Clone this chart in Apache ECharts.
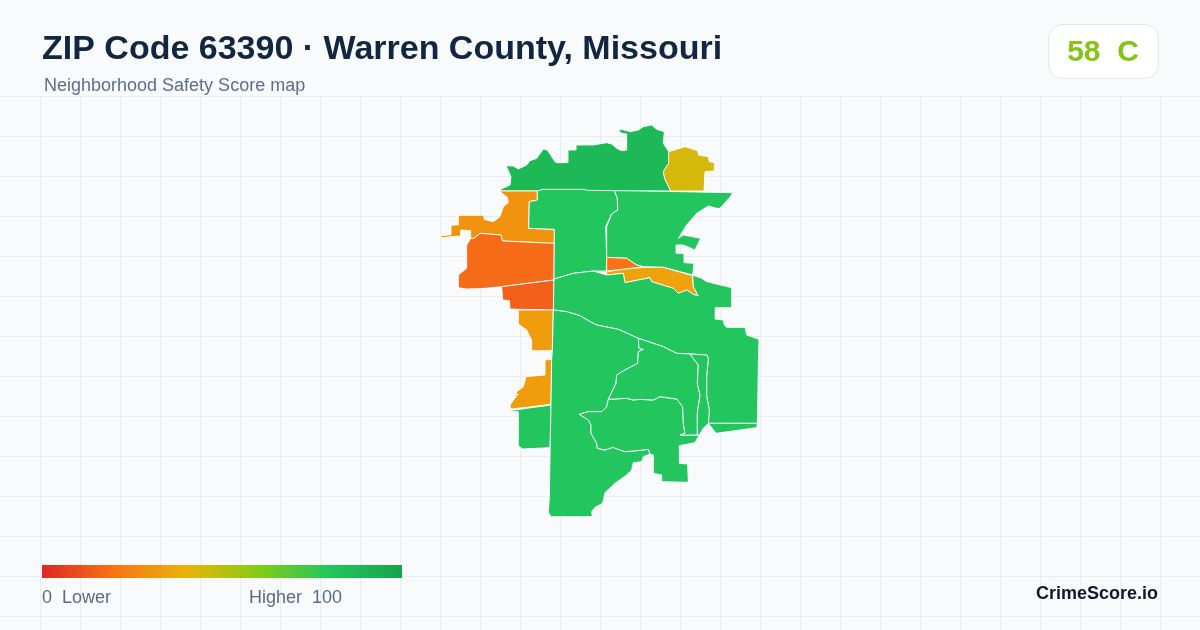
<!DOCTYPE html>
<html>
<head>
<meta charset="UTF-8">
<title>ZIP Code 63390</title>
<script src="https://cdn.jsdelivr.net/npm/echarts@6/dist/echarts.min.js"></script>
<style>
html,body{margin:0;padding:0;background:#f8fafc;}
#main{width:1200px;height:630px;}
</style>
</head>
<body>
<div id="main"></div>
<script>
var regionNames = ['north','northeast','northwest','west','southwestA','centerNorth','eastNorth','smallOrange','goldStrip','centerEast','eastStrip','goldA','goldB','westGreen','greenDot','southWest','loop','above','narrow'];
var regionScores = [87,44,30,18,15,80,80,20,35,80,80,33,33,80,80,80,80,80,80];

// outlines, in map units (3 units = 1 screen px)
var northRing = [[212,238],[240,225],[243,200],[228,167],[250,168],[265,177],[290,165],[300,152],[320,145],[340,117],[352,120],[375,155],[380,158],[414,158],[414,120],[438,120],[438,105],[490,105],[530,98],[545,102],[560,115],[575,122],[590,120],[590,72],[575,70],[565,60],[575,58],[600,65],[625,60],[640,50],[665,45],[680,58],[703,65],[700,100],[716,125],[716,160],[700,185],[704,205],[722,243],[212,243]];
var northeastRing = [[716,125],[740,118],[765,110],[780,115],[803,122],[806,135],[835,140],[838,155],[853,158],[853,183],[825,185],[822,243],[722,243],[704,205],[700,185],[716,160]];
var northwestRing = [[208,243],[322,243],[322,270],[298,275],[296,355],[373,358],[373,400],[217,393],[213,375],[150,370],[132,385],[122,385],[122,362],[92,360],[92,378],[63,380],[33,384],[33,377],[63,374],[63,345],[85,345],[85,316],[162,316],[162,328],[190,335],[210,320],[220,290],[235,278],[232,262]];
var westRing = [[110,405],[122,385],[132,385],[150,370],[213,375],[217,393],[373,400],[372,510],[215,530],[165,535],[110,537],[85,533],[85,495],[110,475]];
var southWestARing = [[215,530],[372,510],[372,600],[270,598],[240,597],[238,572],[218,570]];
var centerNorthRing = [[322,243],[338,238],[465,238],[470,241],[553,242],[562,265],[563,300],[545,312],[527,350],[530,440],[529,483],[490,483],[430,490],[372,507],[373,358],[296,355],[298,275],[322,270]];
var eastNorthRing = [[553,242],[640,243],[908,248],[903,258],[870,295],[860,295],[835,288],[800,310],[770,345],[745,385],[760,375],[812,385],[795,420],[760,405],[738,405],[738,430],[762,430],[762,458],[792,460],[788,495],[700,472],[640,470],[620,465],[590,445],[530,442],[530,350],[545,312],[563,300],[562,265]];
var smallOrangeRing = [[530,442],[590,445],[620,465],[640,470],[580,478],[530,483]];
var goldStripRing = [[530,485],[580,478],[640,472],[700,472],[788,497],[790,530],[805,558],[790,553],[770,540],[745,550],[730,535],[665,515],[660,503],[625,510],[585,518],[580,490],[530,495]];
var centerEastRing = [[372,507],[430,490],[490,483],[530,495],[580,490],[585,518],[625,510],[660,503],[665,515],[730,535],[745,550],[770,540],[790,553],[805,558],[790,530],[788,495],[815,505],[830,515],[905,533],[905,593],[856,593],[855,627],[880,630],[883,645],[890,652],[945,652],[950,675],[987,688],[985,760],[983,895],[982,940],[835,940],[838,900],[830,860],[830,800],[835,745],[830,735],[780,732],[740,730],[700,710],[625,685],[565,658],[500,645],[480,635],[450,617],[410,605],[370,600]];
var eastStripRing = [[835,940],[982,940],[980,953],[858,970]];
var goldARing = [[265,600],[370,600],[367,722],[305,722],[305,690],[290,660],[265,642]];
var goldBRing = [[345,750],[365,748],[363,883],[290,892],[242,897],[240,885],[258,860],[260,845],[280,830],[288,800],[345,795]];
var westGreenRing = [[240,905],[240,902],[290,895],[363,885],[360,1013],[277,1017],[265,1007],[265,905]];
var greenDotRing = [[252,855],[265,853],[260,859]];
var southWestRing = [[370,600],[410,605],[450,617],[480,635],[500,645],[565,658],[625,685],[627,715],[640,718],[625,725],[623,760],[585,780],[560,795],[558,820],[535,868],[530,890],[515,905],[475,905],[448,913],[475,930],[483,945],[483,970],[500,1000],[502,1015],[525,1020],[548,1012],[585,1025],[620,1022],[655,1018],[660,1032],[640,1040],[635,1055],[610,1058],[605,1080],[590,1095],[555,1120],[525,1148],[518,1180],[495,1192],[485,1205],[487,1220],[363,1220],[355,1207],[358,1160],[360,1040],[363,883],[365,748],[367,722]];
var loopRing = [[660,1032],[670,1035],[670,1090],[695,1095],[695,1115],[775,1117],[773,1062],[748,1060],[748,1007],[795,998],[808,975],[750,975],[765,970],[760,940],[758,890],[740,867],[690,860],[670,870],[630,868],[610,870],[590,865],[535,868],[530,890],[515,905],[475,905],[448,913],[475,930],[483,945],[483,970],[500,1000],[502,1015],[525,1020],[548,1012],[585,1025],[620,1022],[655,1018]];
var aboveRing = [[625,685],[700,710],[740,730],[780,732],[805,765],[802,820],[810,855],[802,910],[802,975],[750,975],[765,970],[760,940],[758,890],[740,867],[690,860],[670,870],[630,868],[610,870],[590,865],[535,868],[558,820],[560,795],[585,780],[623,760],[625,725],[640,718],[627,715]];
var narrowRing = [[780,732],[830,735],[835,745],[830,800],[830,860],[838,900],[835,940],[820,955],[808,975],[802,975],[802,910],[810,855],[802,820],[805,765]];
var regionRings = [northRing,northeastRing,northwestRing,westRing,southWestARing,centerNorthRing,eastNorthRing,smallOrangeRing,goldStripRing,centerEastRing,eastStripRing,goldARing,goldBRing,westGreenRing,greenDotRing,southWestRing,loopRing,aboveRing,narrowRing];

var scaleColors = ['#dc2626','#f97316','#eab308','#84cc16','#22c55e','#16a34a'];

var features = [];
var seriesData = [];
for (var i = 0; i < regionNames.length; i++) {
	features.push({type:'Feature',properties:{name:regionNames[i]},geometry:{type:'Polygon',coordinates:[regionRings[i]]}});
	seriesData.push({name:regionNames[i],value:regionScores[i]});
}
echarts.registerMap('zip63390',{type:'FeatureCollection',features:features});

// background grid
var graphics = [];
var gridColor = '#e6eef2';
for (var x = 40.5; x < 1200; x += 40) {
	graphics.push({type:'line',silent:true,z:0,shape:{x1:x,y1:96,x2:x,y2:630},style:{stroke:gridColor,lineWidth:1}});
}
for (var y = 96.5; y < 630; y += 40) {
	graphics.push({type:'line',silent:true,z:0,shape:{x1:0,y1:y,x2:1200,y2:y},style:{stroke:gridColor,lineWidth:1}});
}

// colour scale bar
var barStops = [];
for (var c = 0; c < scaleColors.length; c++) {
	barStops.push({offset:c/(scaleColors.length-1),color:scaleColors[c]});
}
graphics.push({type:'rect',z:5,silent:true,shape:{x:42,y:565,width:360,height:13},style:{fill:new echarts.graphic.LinearGradient(0,0,1,0,barStops)}});

var font = '"Liberation Sans", Arial, sans-serif';
graphics.push({type:'text',z:5,silent:true,style:{x:42,y:50,text:'ZIP Code 63390 · Warren County, Missouri',fill:'#12263f',font:'bold 34px '+font,textVerticalAlign:'middle'}});
graphics.push({type:'text',z:5,silent:true,style:{x:44,y:86,text:'Neighborhood Safety Score map',fill:'#5b6f8c',font:'18px '+font,textVerticalAlign:'middle'}});
graphics.push({type:'rect',z:5,silent:true,shape:{x:1048.5,y:24.5,width:110,height:54,r:14},style:{fill:'#ffffff',stroke:'#e2e8f0',lineWidth:1}});
graphics.push({type:'text',z:6,silent:true,style:{x:1103,y:53,text:'58  C',fill:'#84c416',font:'bold 30px '+font,textAlign:'center',textVerticalAlign:'middle'}});
graphics.push({type:'text',z:5,silent:true,style:{x:42,y:598,text:'0  Lower',fill:'#5b6b85',font:'18px '+font,textVerticalAlign:'middle'}});
graphics.push({type:'text',z:5,silent:true,style:{x:249,y:598,text:'Higher  100',fill:'#5b6b85',font:'18px '+font,textVerticalAlign:'middle'}});
graphics.push({type:'text',z:5,silent:true,style:{x:1158,y:594,text:'CrimeScore.io',fill:'#0f172a',font:'bold 18px '+font,textAlign:'right',textVerticalAlign:'middle'}});

var option = {
	backgroundColor:'#f8fafc',
	animation:false,
	graphic:graphics,
	visualMap:{
		type:'continuous',
		show:false,
		min:0,
		max:100,
		inRange:{color:scaleColors}
	},
	series:[{
		type:'map',
		map:'zip63390',
		projection:{
			project:function(p){return [p[0],p[1]];},
			unproject:function(p){return [p[0],p[1]];}
		},
		left:441,
		top:125,
		width:318,
		height:391.67,
		silent:true,
		roam:false,
		label:{show:false},
		emphasis:{disabled:true},
		itemStyle:{borderColor:'#ffffff',borderWidth:0.9},
		data:seriesData
	}]
};

var myChart = echarts.init(document.getElementById('main'),null,{renderer:'canvas'});
myChart.setOption(option);
</script>
</body>
</html>
